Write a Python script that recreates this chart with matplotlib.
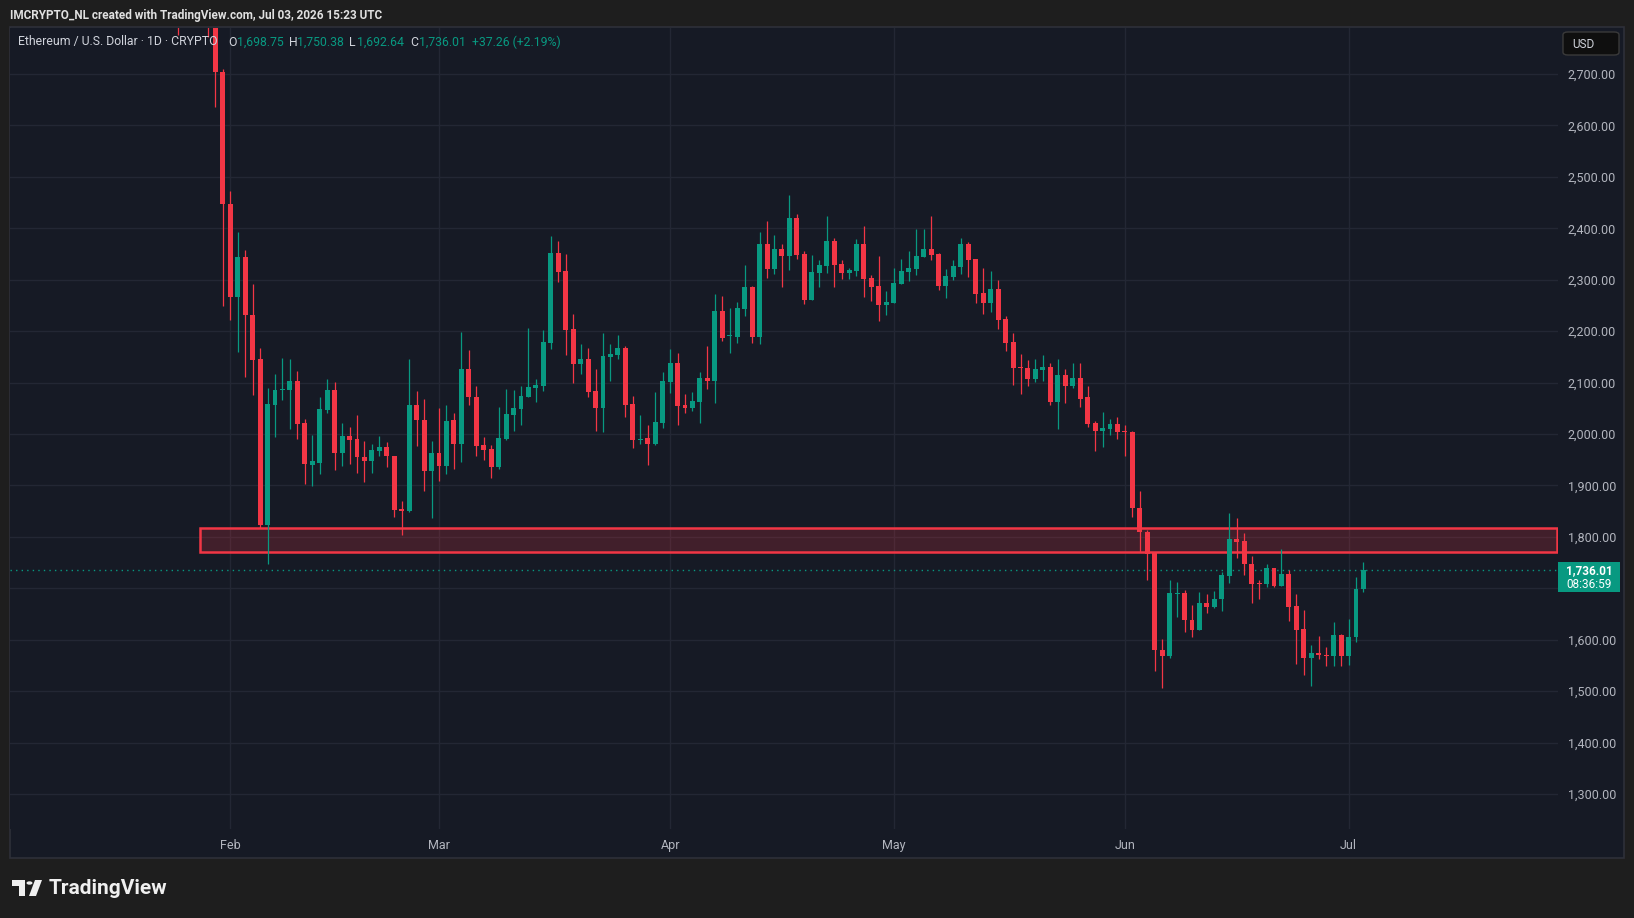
import matplotlib
matplotlib.use('Agg')
import matplotlib.pyplot as plt
import matplotlib.dates as mdates
from matplotlib.patches import Rectangle, FancyBboxPatch, Polygon, Circle
import pandas as pd
import numpy as np

plt.rcParams['font.family'] = ['Roboto', 'DejaVu Sans']

W, H = 1634, 918

# ---------------- data ----------------
dates = pd.date_range('2026-01-25', '2026-07-03', freq='D')

opens = [2930, 2860, 2920, 2950, 2930, 2810, 2704,
         2448, 2266, 2345, 2232, 2145, 1823, 2057, 2085, 2086, 2104, 2022, 1939, 1944, 2046,
         2086, 1964, 1996, 1991, 1956, 1947, 1966, 1974, 1958, 1855, 1850, 2057, 2028, 1928,
         1963, 1938, 2028, 1981, 2127, 2072, 1979, 1970, 1935, 1991, 2036, 2049, 2072, 2090,
         2094, 2177, 2352, 2317, 2205, 2137, 2146, 2084, 2051, 2150, 2154, 2168, 2059, 1989,
         1993, 1981, 2022,
         2102, 2139, 2057, 2051, 2063, 2109, 2104, 2239, 2190, 2189, 2243, 2286, 2189, 2370,
         2321, 2360, 2346, 2420, 2350, 2261, 2313, 2327, 2375, 2331, 2313, 2317, 2370, 2304,
         2288, 2251,
         2255, 2292, 2315, 2321, 2344, 2360, 2350, 2288, 2305, 2325, 2370, 2340, 2274, 2255,
         2282, 2224, 2179, 2131, 2129, 2107, 2125, 2131, 2063, 2115, 2094, 2109, 2071, 2022,
         2005, 2010, 2020,
         2005, 2004, 1857, 1810, 1768, 1581, 1568, 1689, 1690, 1639, 1619, 1672, 1663, 1679,
         1724, 1795, 1791, 1748, 1709, 1708, 1739, 1704, 1727, 1665, 1620, 1564, 1575, 1571,
         1568, 1610,
         1568, 1605, 1698.75]

highs = [2960, 2950, 3010, 3040, 2960, 2830, 2710,
         2473, 2393, 2358, 2292, 2167, 2090, 2117, 2148, 2145, 2123, 2030, 1999, 2072, 2106,
         2101, 2022, 2014, 2036, 1987, 1980, 1996, 1984, 1958, 1870, 2145, 2083, 2069, 1986,
         2050, 2057, 2041, 2199, 2164, 2094, 1995, 1979, 2053, 2088, 2086, 2094, 2206, 2106,
         2203, 2385, 2375, 2350, 2234, 2175, 2168, 2127, 2197, 2175, 2193, 2172, 2074, 2036,
         2018, 2082, 2121,
         2166, 2158, 2078, 2082, 2121, 2172, 2272, 2269, 2245, 2257, 2329, 2288, 2393, 2414,
         2387, 2370, 2465, 2428, 2356, 2348, 2338, 2424, 2381, 2338, 2323, 2379, 2405, 2309,
         2346, 2278,
         2323, 2340, 2356, 2399, 2399, 2424, 2352, 2321, 2339, 2381, 2373, 2340, 2323, 2317,
         2300, 2230, 2197, 2156, 2144, 2146, 2154, 2138, 2146, 2127, 2138, 2138, 2094, 2026,
         2043, 2030, 2034,
         2018, 2005, 1890, 1814, 1768, 1601, 1717, 1713, 1696, 1667, 1692, 1688, 1694, 1731,
         1847, 1837, 1808, 1762, 1717, 1748, 1739, 1777, 1735, 1688, 1657, 1589, 1608, 1585,
         1634, 1612,
         1641, 1721, 1750.38]

lows = [2776, 2810, 2880, 2900, 2772, 2635, 2248,
        2221, 2159, 2110, 2075, 1818, 1748, 1994, 2066, 2009, 1991, 1902, 1899, 1923, 2041,
        1930, 1938, 1941, 1925, 1906, 1925, 1957, 1936, 1839, 1803, 1848, 1976, 1889, 1836,
        1908, 1923, 1931, 1945, 2056, 1957, 1949, 1915, 1931, 1989, 2006, 2018, 2071, 2063,
        2084, 2166, 2296, 2154, 2100, 2117, 2072, 2006, 2004, 2104, 2146, 2034, 1972, 1981,
        1939, 1979, 2012,
        2080, 2018, 2041, 2045, 2022, 2088, 2061, 2181, 2158, 2177, 2230, 2177, 2175, 2304,
        2311, 2286, 2319, 2340, 2253, 2261, 2286, 2313, 2286, 2302, 2302, 2307, 2267, 2259,
        2220, 2232,
        2255, 2292, 2298, 2309, 2344, 2339, 2280, 2265, 2300, 2311, 2305, 2255, 2234, 2238,
        2204, 2162, 2096, 2078, 2094, 2102, 2104, 2057, 2010, 2061, 2090, 2053, 2014, 1966,
        1975, 1999, 1991,
        1957, 1838, 1771, 1716, 1539, 1506, 1564, 1644, 1615, 1605, 1619, 1652, 1661, 1656,
        1710, 1759, 1726, 1671, 1679, 1702, 1702, 1704, 1636, 1552, 1531, 1510, 1562, 1549,
        1549, 1549,
        1551, 1596, 1692.64]

closes = [2860, 2920, 2950, 2930, 2810, 2703, 2447,
          2266, 2345, 2231, 2143, 1823, 2059, 2086, 2088, 2104, 2020, 1941, 1947, 2048, 2086,
          1963, 1996, 1989, 1955, 1947, 1968, 1974, 1957, 1853, 1850, 2057, 2027, 1928, 1963,
          1938, 2026, 1981, 2127, 2071, 1977, 1968, 1935, 1993, 2038, 2051, 2074, 2092, 2096,
          2179, 2352, 2315, 2203, 2137, 2146, 2082, 2051, 2152, 2156, 2168, 2057, 1989, 1991,
          1981, 2024, 2104,
          2139, 2055, 2051, 2065, 2109, 2104, 2239, 2187, 2191, 2245, 2286, 2189, 2370, 2321,
          2360, 2346, 2420, 2348, 2261, 2315, 2329, 2375, 2329, 2313, 2319, 2370, 2302, 2286,
          2251, 2257,
          2294, 2317, 2323, 2346, 2360, 2348, 2288, 2307, 2327, 2370, 2339, 2272, 2255, 2282,
          2222, 2177, 2129, 2129, 2107, 2127, 2131, 2063, 2115, 2094, 2109, 2069, 2020, 2005,
          2012, 2020, 2003,
          2003, 1856, 1809, 1766, 1580, 1568, 1690, 1691, 1638, 1619, 1672, 1663, 1680, 1725,
          1795, 1790, 1747, 1708, 1708, 1739, 1704, 1727, 1663, 1619, 1564, 1575, 1570, 1568,
          1610, 1568,
          1606, 1698, 1736.01]

zone_start = '2026-01-28'
zone_low, zone_high = 1771, 1817
last_price = 1736.01
countdown = '08:36:59'

price_ticks = [1300, 1400, 1500, 1600, 1700, 1800, 1900, 2000, 2100, 2200, 2300, 2400,
               2500, 2600, 2700]
price_tick_labels = ['1,300.00', '1,400.00', '1,500.00', '1,600.00', '', '1,800.00',
                     '1,900.00', '2,000.00', '2,100.00', '2,200.00', '2,300.00', '2,400.00',
                     '2,500.00', '2,600.00', '2,700.00']
month_ticks = ['2026-02-01', '2026-03-01', '2026-04-01', '2026-05-01', '2026-06-01', '2026-07-01']
month_labels = ['Feb', 'Mar', 'Apr', 'May', 'Jun', 'Jul']

header = 'IMCRYPTO_NL created with TradingView.com, Jul 03, 2026 15:23 UTC'
symbol = 'Ethereum / U.S. Dollar \u00b7 1D \u00b7 CRYPTO'
ohlc_text = [('O', '1,698.75'), ('H', '1,750.38'), ('L', '1,692.64'), ('C', '1,736.01')]
change_text = '+37.26 (+2.19%)'

# ---------------- style ----------------
UP = '#089981'
DOWN = '#F23645'
BG = '#161A25'
OUTER = '#1E1E1E'
GRID = '#232734'
TXT = '#B2B5BE'


def fx(px):
    return px / W


def fy(py):
    return 1 - py / H


fig = plt.figure(figsize=(W / 100, H / 100), dpi=100)
fig.patch.set_facecolor(OUTER)

# chart panel (behind everything)
panel = Rectangle((fx(9.5), fy(857.5)), fx(1614), (857.5 - 27) / H, transform=fig.transFigure,
                  facecolor=BG, edgecolor='#2E3039', linewidth=1.2, zorder=-5)
fig.patches.append(panel)

# plot area
pl, pr, pt, pb = 10, 1558, 28, 829
ax = fig.add_axes([fx(pl), fy(pb), fx(pr - pl), (pb - pt) / H])
ax.set_zorder(1)
ax.set_facecolor(BG)
for s in ax.spines.values():
    s.set_visible(False)

feb1 = mdates.date2num(pd.Timestamp('2026-02-01'))
ax.set_xlim(feb1 - 29.55, feb1 + 178.1)
ax.set_ylim(1232.0, 2789.4)

x = mdates.date2num(dates)
o = np.array(opens, dtype=float)
h = np.array(highs, dtype=float)
l = np.array(lows, dtype=float)
c = np.array(closes, dtype=float)
up = c >= o
cols = np.where(up, UP, DOWN)

ax.vlines(x, l, h, colors=cols, linewidth=0.9, zorder=3)
body_bottom = np.minimum(o, c)
body_h = np.maximum(np.abs(c - o), 2.0)
ax.bar(x, body_h, bottom=body_bottom, width=0.66, color=cols, linewidth=0, zorder=4)

# grid
ax.set_yticks(price_ticks)
ax.set_yticklabels(price_tick_labels)
mt = [mdates.date2num(pd.Timestamp(d)) for d in month_ticks]
ax.set_xticks(mt)
ax.set_xticklabels(month_labels)
ax.grid(True, color=GRID, linewidth=1.0, zorder=0)
ax.set_axisbelow(True)
ax.yaxis.tick_right()
ax.tick_params(axis='y', length=0, pad=7, labelsize=9, labelcolor=TXT)
ax.tick_params(axis='x', length=0, pad=7, labelsize=9, labelcolor=TXT)

# zone
zx0 = mdates.date2num(pd.Timestamp(zone_start))
zx1 = ax.get_xlim()[1] - 0.1
ax.add_patch(Rectangle((zx0, zone_low), zx1 - zx0, zone_high - zone_low,
                       facecolor=(242 / 255, 54 / 255, 69 / 255, 0.2),
                       edgecolor=DOWN, linewidth=1.8, zorder=2))

# last price dotted line
ax.axhline(last_price, color=UP, linewidth=1.0, linestyle=(0, (1, 3)), zorder=2)

# last price label
fig.patches.append(Rectangle((fx(1558), fy(592)), fx(62), 30 / H, transform=fig.transFigure,
                             facecolor=UP, edgecolor='none', zorder=5))
fig.text(fx(1589), fy(570.5), f'{last_price:,.2f}', color='white', fontsize=8.5,
         fontweight='bold', ha='center', va='center', zorder=6)
fig.text(fx(1589), fy(584), countdown, color='white', fontsize=8.5,
         ha='center', va='center', zorder=6)

# USD box
fig.patches.append(FancyBboxPatch((fx(1563), fy(55)), fx(56), 23 / H,
                                  boxstyle='round,pad=0,rounding_size=0.003',
                                  transform=fig.transFigure, facecolor='#0F0F0F',
                                  edgecolor='#3A3A3A', linewidth=1.0, zorder=5))
fig.text(fx(1572), fy(44), 'USD', color='#D1D4DC', fontsize=8.5, ha='left', va='center',
         zorder=6)

# header
fig.text(fx(10), fy(15), header, color='#E0E0E0', fontsize=8.5, fontweight='bold',
         ha='left', va='center')

# legend line
fig.text(fx(18), fy(42), symbol, color='#D1D4DC', fontsize=8.8, ha='left', va='center',
         zorder=6)
xpos = [(228.5, 236.5), (289, 297), (349.5, 357.5), (410, 418.5)]
for (lab, val), (xl, xv) in zip(ohlc_text, xpos):
    fig.text(fx(xl), fy(42), lab, color='#D1D4DC', fontsize=8.8, ha='left', va='center',
             zorder=6)
    fig.text(fx(xv), fy(42), val, color=UP, fontsize=8.8, ha='left', va='center', zorder=6)
fig.text(fx(471.5), fy(42), change_text, color=UP, fontsize=8.8, ha='left', va='center',
         zorder=6)

# footer logo
logo_col = '#F0F0F0'
fig.patches.append(Polygon([(fx(12), fy(880)), (fx(25), fy(880)), (fx(25), fy(896)),
                            (fx(19), fy(896)), (fx(19), fy(886)), (fx(12), fy(886))],
                           closed=True, transform=fig.transFigure, facecolor=logo_col,
                           edgecolor='none'))
fig.patches.append(Circle((fx(29.5), fy(883)), 3.0 / W, transform=fig.transFigure,
                          facecolor=logo_col, edgecolor='none'))
fig.patches.append(Polygon([(fx(35), fy(880)), (fx(42), fy(880)), (fx(36), fy(896)),
                            (fx(29), fy(896))], closed=True, transform=fig.transFigure,
                           facecolor=logo_col, edgecolor='none'))
fig.text(fx(49), fy(888), 'TradingView', color=logo_col, fontsize=15, fontweight='bold',
         ha='left', va='center')

fig.savefig('out.png', dpi=100, facecolor=OUTER)
